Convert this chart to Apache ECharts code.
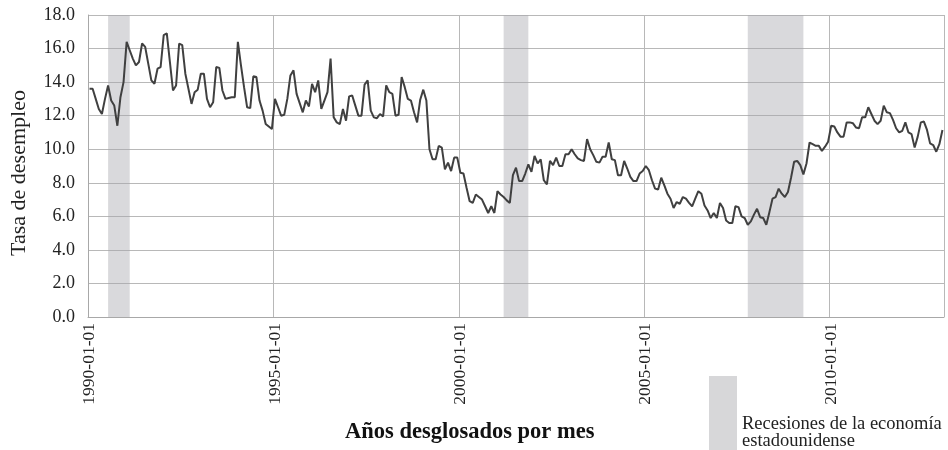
<!DOCTYPE html>
<html><head><meta charset="utf-8">
<script src="https://cdn.jsdelivr.net/npm/echarts@6/dist/echarts.min.js"></script>
<style>html,body{margin:0;padding:0;background:#fff}#c{width:948px;height:450px}</style>
</head><body><div id="c"></div>
<script>
// Monthly unemployment rate, Jan 1990 – Jan 2013
const startYear = 1990;
const rates1990s = [
  13.6, 13.6, 13.0, 12.4, 12.1, 13.0, 13.8, 12.9, 12.6, 11.4, 13.1, 14.0,
  16.4, 15.9, 15.4, 15.0, 15.2, 16.3, 16.1, 15.1, 14.1, 13.9, 14.8, 14.9,
  16.8, 16.9, 15.2, 13.5, 13.8, 16.3, 16.2, 14.5, 13.6, 12.7, 13.4, 13.55,
  14.5, 14.5, 13.0, 12.5, 12.8, 14.9, 14.85, 13.5, 13.0, 13.05, 13.1, 13.1,
  16.4, 15.0, 13.7, 12.5, 12.45, 14.35, 14.3, 12.9, 12.3, 11.5, 11.35, 11.2,
  13.0, 12.5, 12.0, 12.05, 13.0, 14.4, 14.7, 13.3, 12.75, 12.2, 12.9, 12.55,
  13.9, 13.4, 14.1, 12.4, 12.9, 13.4, 15.4, 11.9, 11.6, 11.5, 12.4, 11.7,
  13.15, 13.2, 12.6, 12.0, 12.0, 13.85, 14.1, 12.3, 11.9, 11.85, 12.1, 11.95,
  13.8, 13.4, 13.3, 12.0, 12.05, 14.3, 13.7, 13.0, 12.9, 12.2, 11.6, 12.95,
  13.55, 12.9, 10.0, 9.4, 9.4, 10.2, 10.1, 8.8, 9.2, 8.7, 9.5, 9.5
];
const rates2000s = [
  8.6, 8.55, 7.7, 6.9, 6.8, 7.3, 7.15, 7.0, 6.6, 6.2, 6.6, 6.2,
  7.5, 7.3, 7.15, 6.95, 6.8, 8.45, 8.9, 8.1, 8.1, 8.55, 9.1, 8.65,
  9.6, 9.15, 9.4, 8.15, 7.9, 9.3, 9.05, 9.5, 9.0, 9.0, 9.7, 9.7,
  10.0, 9.7, 9.45, 9.35, 9.3, 10.6, 10.0, 9.65, 9.25, 9.2, 9.55, 9.55,
  10.4, 9.4, 9.35, 8.45, 8.45, 9.3, 8.85, 8.35, 8.1, 8.1, 8.55, 8.7,
  9.0, 8.75, 8.15, 7.65, 7.6, 8.3, 7.85, 7.35, 7.05, 6.5, 6.85, 6.75,
  7.15, 7.05, 6.8, 6.6, 7.05, 7.5, 7.35, 6.65, 6.35, 5.9, 6.2, 5.9,
  6.8, 6.5, 5.75, 5.6, 5.6, 6.6, 6.55, 6.0, 5.9, 5.5, 5.7, 6.1,
  6.45, 5.95, 5.9, 5.5, 6.25, 7.05, 7.15, 7.65, 7.35, 7.15, 7.45, 8.3,
  9.25, 9.3, 9.05, 8.5, 9.15, 10.4, 10.3, 10.2, 10.2, 9.9, 10.15, 10.45
];
const rates2010s = [
  11.4, 11.35, 11.0, 10.75, 10.75, 11.6, 11.6, 11.55, 11.3, 11.25, 11.9, 11.9,
  12.5, 12.1, 11.7, 11.5, 11.7, 12.6, 12.2, 12.15, 11.75, 11.25, 11.0, 11.1,
  11.6, 11.0, 10.9, 10.1, 10.75, 11.6, 11.65, 11.15, 10.35, 10.25, 9.85, 10.3,
  11.15
];
const tickLabels = ['1990-01-01', '1995-01-01', '2000-01-01', '2005-01-01', '2010-01-01'];
const recessions = [
  ['1990-07-01', '1991-02-01'],
  ['2001-03-01', '2001-11-01'],
  ['2007-10-01', '2009-04-01']
];
const yTicks = [0, 2, 4, 6, 8, 10, 12, 14, 16, 18];
const yTitle = 'Tasa de desempleo';
const xTitle = 'Años desglosados por mes';
const legendName = 'Recesiones de la economía estadounidense';

const rates = rates1990s.concat(rates2000s, rates2010s);
const months = rates.map((_, i) => {
  const y = startYear + Math.floor(i / 12);
  const m = (i % 12) + 1;
  return y + '-' + (m < 10 ? '0' + m : m) + '-01';
});

const serif = 'Liberation Serif';
const chart = echarts.init(document.getElementById('c'));
chart.setOption({
  animation: false,
  backgroundColor: '#fff',
  grid: { left: 88, right: 4, top: 15, bottom: 133, containLabel: false, outerBoundsMode: 'none' },
  legend: {
    data: [{ name: legendName, icon: 'rect' }],
    left: 704, top: 371,
    itemWidth: 28, itemHeight: 114,
    selectedMode: false,
    formatter: () => 'Recesiones de la economía\nestadounidense',
    textStyle: { fontFamily: serif, fontSize: 18.5, color: '#222', lineHeight: 17 }
  },
  graphic: [{
    type: 'text', left: 345, top: 421,
    style: { text: xTitle, fill: '#111', font: 'bold 22.5px "Liberation Serif"' }
  }],
  xAxis: {
    type: 'category',
    data: months,
    boundaryGap: true,
    axisLine: { show: true, lineStyle: { color: '#a8a8a8' } },
    axisTick: { show: false },
    axisLabel: {
      interval: (i, v) => tickLabels.indexOf(v) >= 0,
      rotate: 90, margin: 6,
      fontFamily: serif, fontSize: 17.5, color: '#222'
    },
    splitLine: { show: true, interval: (i, v) => tickLabels.indexOf(v) >= 0,
      lineStyle: { color: '#b8b8b8' } }
  },
  yAxis: {
    type: 'value', min: yTicks[0], max: yTicks[yTicks.length - 1], interval: 2,
    name: yTitle, nameLocation: 'middle', nameGap: 58,
    nameTextStyle: { fontFamily: serif, fontSize: 22, color: '#222', padding: [0, 14, 0, 0] },
    axisLine: { show: true, lineStyle: { color: '#a8a8a8' } },
    axisTick: { show: false },
    axisLabel: { formatter: v => v.toFixed(1), fontFamily: serif, fontSize: 18, color: '#222', margin: 13 },
    splitLine: { lineStyle: { color: '#b8b8b8' } }
  },
  series: [
    {
      type: 'bar', name: legendName, data: [],
      itemStyle: { color: '#d7d7d9' }
    },
    {
      type: 'line', name: 'Tasa', data: rates, symbol: 'none',
      lineStyle: { width: 2, color: '#404040' },
      z: 3,
      markArea: {
        silent: true,
        itemStyle: { color: 'rgba(165,165,172,0.42)' },
        data: recessions.map(r => [{ xAxis: r[0] }, { xAxis: r[1] }])
      }
    }
  ]
});
</script>
</body></html>
